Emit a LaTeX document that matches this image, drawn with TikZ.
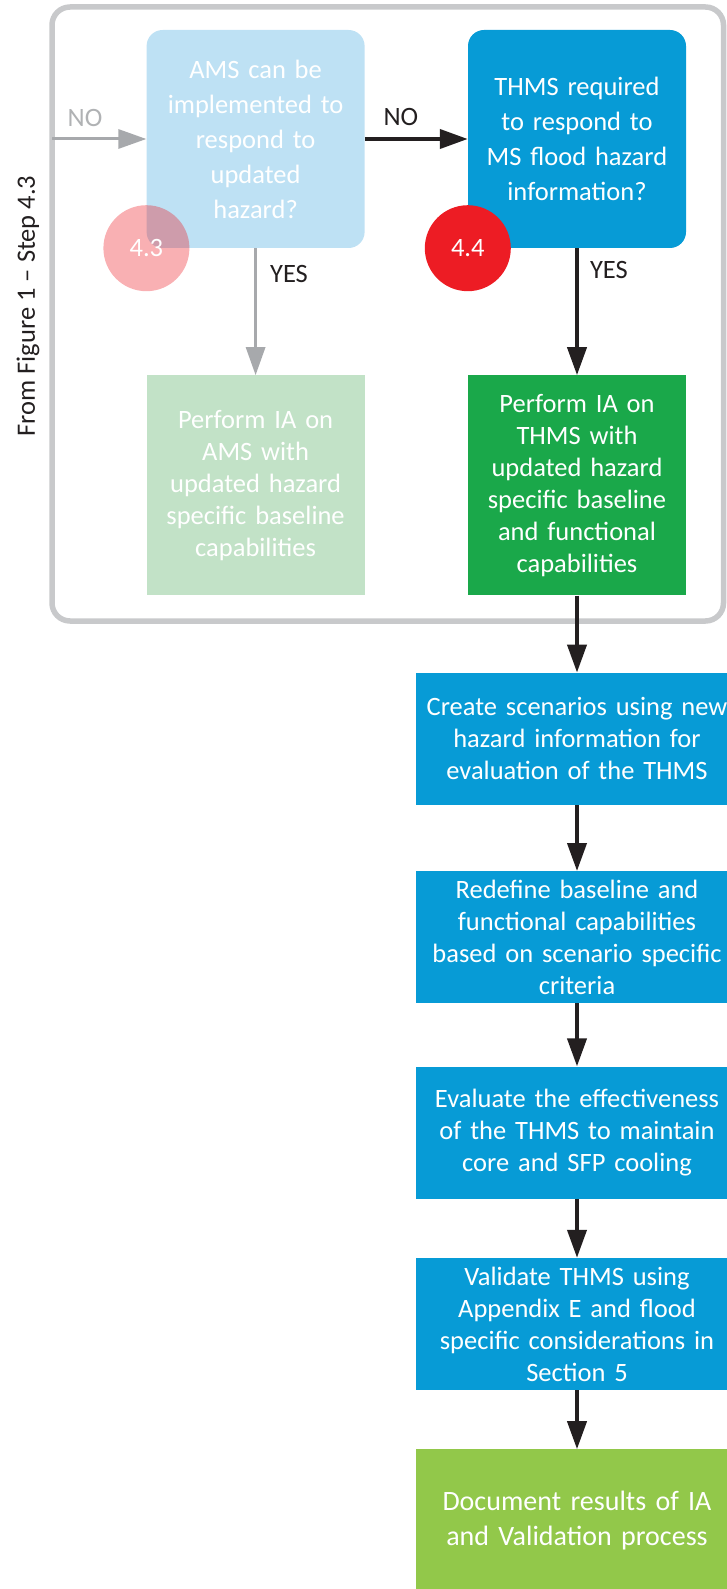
\documentclass[tikz,border=0pt]{standalone}
\usepackage{fontspec}
\setmainfont{Carlito}
\usetikzlibrary{positioning, arrows.meta}

\definecolor{thmsblue}{RGB}{7,155,214}
\definecolor{amsblue}{RGB}{190,225,244}
\definecolor{iagreen}{RGB}{26,168,74}
\definecolor{iafade}{RGB}{194,226,199}
\definecolor{docgreen}{RGB}{146,200,74}
\definecolor{badgered}{RGB}{237,28,36}
\definecolor{framegray}{RGB}{200,201,203}
\definecolor{fadegray}{RGB}{167,169,172}
\definecolor{nogray}{RGB}{176,178,180}
\definecolor{arrowblack}{RGB}{35,31,32}

\begin{document}
\begin{tikzpicture}
	[x=1pt, y=-1pt, font=\fontsize{26.5}{32}\selectfont,
	 box/.style={rectangle, text=white, align=center, inner sep=4pt},
	 decision/.style={box, rounded corners=16pt, minimum width=218pt, minimum height=218pt,
	   text width=204pt, font=\fontsize{26.5}{35}\selectfont},
	 task/.style={box, minimum width=218pt, minimum height=220pt, text width=206pt},
	 stepbox/.style={box, minimum width=322pt, minimum height=132pt, text width=314pt},
	 badge/.style={circle, minimum size=86pt, inner sep=0pt, text=white},
	 flow/.style={-{Triangle[length=28pt,width=19pt]}, line width=4pt, arrowblack},
	 faded/.style={flow, line width=3pt, fadegray},
	 lbl/.style={inner sep=2pt, text=arrowblack}]
   \useasboundingbox (0,0) rectangle (727,1589);

   % frame round steps 4.3 and 4.4
   \draw[line width=5.5pt, draw=framegray, rounded corners=18pt] (52,7) rectangle (723.5,621);
   \node[rotate=90, text=arrowblack] (src) at (28,306) {From Figure 1 – Step 4.3};
   \coordinate (entry) at (52,139);

   \node[decision, fill=thmsblue] (dec_4) at (577,139) {THMS required\\to respond to\\MS flood hazard\\information?};
   \node[decision, fill=amsblue] (dec_3) [left=103pt of dec_4] {AMS can be\\implemented to\\respond to\\updated\\hazard?};
   \node[task, fill=iagreen] (ia_4) [below=127pt of dec_4] {Perform IA on\\THMS with\\updated hazard\\specific baseline\\and functional\\capabilities};
   \node[task, fill=iafade] (ia_3) [below=127pt of dec_3] {Perform IA on\\AMS with\\updated hazard\\specific baseline\\capabilities};

   \node[badge, fill=badgered, fill opacity=.35, text opacity=1] (c_3) at (dec_3.south west) {4.3};
   \node[badge, fill=badgered] (c_4) at (dec_4.south west) {4.4};

   % main sequence
   \node[stepbox, fill=thmsblue] (s_1) [below=77pt of ia_4] {Create scenarios using new\\hazard information for\\evaluation of the THMS};
   \node[stepbox, fill=thmsblue] (s_2) [below=66pt of s_1] {Redefine baseline and\\functional capabilities\\based on scenario specific\\criteria};
   \node[stepbox, fill=thmsblue] (s_3) [below=63pt of s_2] {Evaluate the effectiveness\\of the THMS to maintain\\core and SFP cooling};
   \node[stepbox, fill=thmsblue] (s_4) [below=59pt of s_3] {Validate THMS using\\Appendix E and flood\\specific considerations in\\Section 5};
   \node[stepbox, fill=docgreen, minimum height=142pt, font=\fontsize{28}{35}\selectfont] (s_5) [below=59pt of s_4] {Document results of IA\\and Validation process};

   \path[faded]
    (entry) edge node[lbl, above=9pt, pos=.35, text=nogray] {NO} (dec_3)
    (dec_3) edge node[lbl, right=11pt, pos=.2] {YES} (ia_3);
   \path[flow]
    (dec_3) edge node[lbl, above=9pt, pos=.35] {NO} (dec_4)
    (dec_4) edge node[lbl, right=9pt, pos=.17] {YES} (ia_4)
    (ia_4) edge (s_1)
    (s_1) edge (s_2)
    (s_2) edge (s_3)
    (s_3) edge (s_4)
    (s_4) edge (s_5);
\end{tikzpicture}
\end{document}
